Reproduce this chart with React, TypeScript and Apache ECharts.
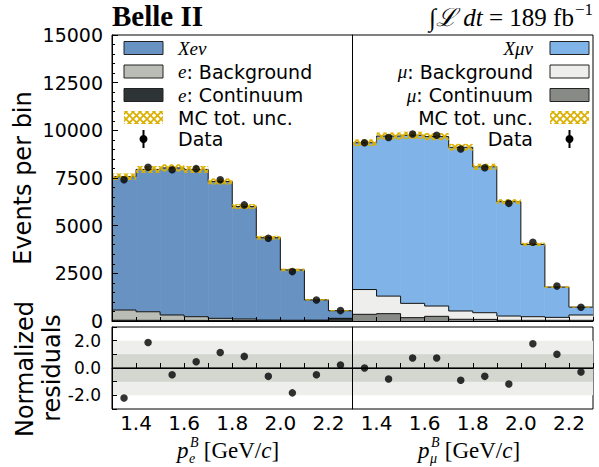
import React, { useEffect, useRef } from 'react';
import * as echarts from 'echarts';

// ---------- data ----------
const binLow = [1.3, 1.4, 1.5, 1.6, 1.7, 1.8, 1.9, 2.0, 2.1, 2.2];
const binWidth = 0.1;
const xRange = [1.3, 2.3];
const yMainRange = [0, 15000];
const yMainInterval = 2500;
const yResRange = [-3, 3];
const bandOuter = [-2, 2];
const bandInner = [-1, 1];

const eSignal = [6995, 7465, 7715, 7725, 7180, 5895, 4320, 2640, 1065, 400];
const eBackground = [535, 450, 285, 195, 115, 80, 30, 20, 15, 20];
const eContinuum = [40, 35, 30, 30, 25, 25, 20, 20, 30, 120];
const eUnc = [170, 180, 190, 180, 160, 130, 100, 70, 40, 30];
const eData = [7410, 8060, 7930, 7990, 7410, 6090, 4340, 2590, 1100, 545];
const eResidual = [-2.2, 1.87, -0.49, 0.46, 1.14, 0.85, -0.61, -1.82, -0.49, 0.22];

const muSignal = [7700, 8395, 8815, 8885, 8585, 7655, 6000, 3795, 1590, 415];
const muBackground = [1300, 920, 750, 540, 435, 350, 225, 190, 155, 280];
const muContinuum = [350, 385, 175, 245, 90, 85, 35, 35, 35, 35];
const muUnc = [180, 190, 190, 190, 180, 160, 130, 90, 50, 30];
const muData = [9350, 9620, 9810, 9740, 9020, 8040, 6170, 4130, 1830, 722];
const muResidual = [0.0, -0.8, 0.73, 0.73, -0.9, -0.61, -1.17, 1.78, 1.0, -0.29];

const eLegend = ['{m|Xeν}', '{m|e}: Background', '{m|e}: Continuum', 'MC tot. unc.', 'Data'];
const muLegend = ['{m|Xμν}', '{m|μ}: Background', '{m|μ}: Continuum', 'MC tot. unc.', 'Data'];

// ---------- style ----------
const C = {
  eSig: '#6892c2',
  eBkg: '#babdb6',
  eCont: '#2e3436',
  muSig: '#80b4e8',
  muBkg: '#eeeeec',
  muCont: '#888a85',
  hatch: '#dcb000',
  bandOuter: '#eeeeec',
  bandInner: '#d3d7cf',
  zero: '#555753',
};
const SANS = 'DejaVu Sans';
const SERIF = '"Liberation Serif", "DejaVu Serif", serif';

const GL = { left: 112, width: 240.5 };
const GR = { left: 352.5, width: 240.5 };
const MAIN = { top: 35, height: 286 };
const RES = { top: 327, height: 82 };

let measureCtx: CanvasRenderingContext2D | null = null;
function measure(s: string, font: string) {
  if (!measureCtx) measureCtx = document.createElement('canvas').getContext('2d');
  measureCtx!.font = font;
  return measureCtx!.measureText(s).width;
}

function makeHatch(): any {
  const s = 7;
  const cv = document.createElement('canvas');
  cv.width = s;
  cv.height = s;
  const ctx = cv.getContext('2d')!;
  ctx.strokeStyle = C.hatch;
  ctx.lineWidth = 1.7;
  for (const c of [-s, 0, s]) {
    ctx.beginPath();
    ctx.moveTo(c - 1, -1);
    ctx.lineTo(c + s + 1, s + 1);
    ctx.stroke();
  }
  for (const c of [0, s, 2 * s]) {
    ctx.beginPath();
    ctx.moveTo(c + 1, -1);
    ctx.lineTo(c - s - 1, s + 1);
    ctx.stroke();
  }
  return { image: cv, repeat: 'repeat', imageWidth: s, imageHeight: s };
}

// one stacked histogram component: items [x0, x1, bottom, top, nextTop, nextBottom]
function histSeries(mx: number, my: number, bottoms: number[], tops: number[], color: string, z: number) {
  const last = tops.length - 1;
  return {
    type: 'custom',
    xAxisIndex: mx,
    yAxisIndex: my,
    silent: true,
    z,
    clip: true,
    data: binLow.map((x, i) => [x, x + binWidth, bottoms[i], tops[i], i < last ? tops[i + 1] : tops[i], i < last ? bottoms[i + 1] : bottoms[i]]),
    encode: { x: [0, 1], y: [2, 3] },
    renderItem: (params: any, api: any) => {
      const a = api.coord([api.value(0), api.value(3)]);
      const b = api.coord([api.value(1), api.value(2)]);
      const n = api.coord([api.value(1), api.value(4)]);
      const nb = api.coord([api.value(1), api.value(5)]);
      const isLast = params.dataIndex === last;
      const overlapBottom = Math.min(b[1], nb[1]);
      const overlapTop = Math.max(a[1], n[1]);
      const children: any[] = [
        { type: 'rect', shape: { x: a[0], y: a[1], width: b[0] - a[0], height: b[1] - a[1] }, style: { fill: color } },
      ];
      if (!isLast && overlapBottom > overlapTop) {
        children.push({ type: 'rect', shape: { x: b[0] - 0.5, y: overlapTop, width: 1, height: overlapBottom - overlapTop }, style: { fill: color } });
      }
      children.push({
        type: 'polyline',
        z2: 10,
        shape: { points: [[a[0], a[1]], [b[0], a[1]], [b[0], n[1]]] },
        style: { stroke: '#111', lineWidth: 1, fill: null },
      });
      return { type: 'group', children };
    },
  };
}

function panelSeries(
  k: number,
  sig: number[],
  bkg: number[],
  cont: number[],
  unc: number[],
  data: number[],
  resid: number[],
  colors: { sig: string; bkg: string; cont: string },
  hatch: any
) {
  const mx = k, my = k, rx = k + 2, ry = k + 2;
  const zeros = cont.map(() => 0);
  const t1 = cont.map((c) => c);
  const t2 = cont.map((c, i) => c + bkg[i]);
  const t3 = t2.map((v, i) => v + sig[i]);
  const band = (range: number[], color: string, z: number) => ({
    type: 'custom',
    xAxisIndex: rx,
    yAxisIndex: ry,
    silent: true,
    z,
    data: [[xRange[0], xRange[1], range[0], range[1]]],
    encode: { x: [0, 1], y: [2, 3] },
    renderItem: (_p: any, api: any) => {
      const a = api.coord([api.value(0), api.value(3)]);
      const b = api.coord([api.value(1), api.value(2)]);
      return { type: 'rect', shape: { x: a[0], y: a[1], width: b[0] - a[0], height: b[1] - a[1] }, style: { fill: color } };
    },
  });
  return [
    histSeries(mx, my, zeros, t1, colors.cont, 2.2),
    histSeries(mx, my, t1, t2, colors.bkg, 2.1),
    histSeries(mx, my, t2, t3, colors.sig, 2),
    {
      type: 'custom',
      xAxisIndex: mx,
      yAxisIndex: my,
      silent: true,
      z: 4,
      data: binLow.map((x, i) => [x, x + binWidth, t3[i] - unc[i], t3[i] + unc[i]]),
      encode: { x: [0, 1], y: [2, 3] },
      renderItem: (_p: any, api: any) => {
        const a = api.coord([api.value(0), api.value(3)]);
        const b = api.coord([api.value(1), api.value(2)]);
        return { type: 'rect', shape: { x: a[0], y: a[1], width: b[0] - a[0], height: b[1] - a[1] }, style: { fill: hatch } };
      },
    },
    {
      type: 'scatter',
      xAxisIndex: mx,
      yAxisIndex: my,
      silent: true,
      z: 5,
      symbolSize: 7.5,
      itemStyle: { color: '#000' },
      data: binLow.map((x, i) => [x + binWidth / 2, data[i]]),
    },
    band(bandOuter, C.bandOuter, 1),
    band(bandInner, C.bandInner, 1.5),
    {
      type: 'custom',
      xAxisIndex: rx,
      yAxisIndex: ry,
      silent: true,
      z: 2,
      data: [[xRange[0], xRange[1], 0]],
      encode: { x: [0, 1], y: 2 },
      renderItem: (_p: any, api: any) => {
        const a = api.coord([api.value(0), api.value(2)]);
        const b = api.coord([api.value(1), api.value(2)]);
        return { type: 'line', shape: { x1: a[0], y1: a[1], x2: b[0], y2: b[1] }, style: { stroke: C.zero, lineWidth: 2 } };
      },
    },
    {
      type: 'scatter',
      xAxisIndex: rx,
      yAxisIndex: ry,
      silent: true,
      z: 5,
      symbolSize: 7.5,
      itemStyle: { color: '#000' },
      data: binLow.map((x, i) => [x + binWidth / 2, resid[i]]),
    },
  ];
}

function xAxisDef(grid: number, labels: boolean, tickLen: number) {
  return {
    type: 'value',
    gridIndex: grid,
    min: xRange[0],
    max: xRange[1],
    interval: binWidth,
    z: 10,
    axisLine: { show: true, lineStyle: { color: '#000', width: 1 } },
    axisTick: { show: true, inside: true, length: tickLen, lineStyle: { color: '#000', width: 1 } },
    splitLine: { show: false },
    axisLabel: labels
      ? {
          show: true,
          margin: 4,
          fontFamily: SANS,
          fontSize: 20,
          color: '#000',
          formatter: (v: number) => {
            const k = Math.round(v * 10);
            return k % 2 === 0 && k > 13 && k < 23 ? (k / 10).toFixed(1) : '';
          },
        }
      : { show: false },
  };
}

function legendGraphics(hatch: any) {
  const els: any[] = [];
  const rows = [48, 71.5, 95, 117.5, 139];
  const bw = 39, bh = 13;
  const sides = [
    { bx: 124, tx: 178, align: 'left', fills: [C.eSig, C.eBkg, C.eCont], texts: eLegend },
    { bx: 550, tx: 533, align: 'right', fills: [C.muSig, C.muBkg, C.muCont], texts: muLegend },
  ];
  for (const s of sides) {
    s.fills.forEach((f, i) =>
      els.push({ type: 'rect', z: 100, shape: { x: s.bx, y: rows[i] - bh / 2, width: bw, height: bh }, style: { fill: f, stroke: '#222', lineWidth: 1 } })
    );
    els.push({ type: 'rect', z: 100, shape: { x: s.bx, y: rows[3] - bh / 2, width: bw, height: bh }, style: { fill: hatch } });
    const cx = s.bx + bw / 2;
    els.push({ type: 'line', z: 100, shape: { x1: cx, y1: rows[4] - 9, x2: cx, y2: rows[4] + 9 }, style: { stroke: '#000', lineWidth: 2 } });
    els.push({ type: 'circle', z: 101, shape: { cx, cy: rows[4], r: 4 }, style: { fill: '#000' } });
    s.texts.forEach((t, i) =>
      els.push({
        type: 'text',
        z: 100,
        x: s.tx,
        y: rows[i],
        style: {
          text: t,
          fontFamily: SANS,
          fontSize: 19,
          fill: '#000',
          align: s.align,
          verticalAlign: 'middle',
          rich: { m: { fontFamily: SERIF, fontStyle: 'italic', fontSize: 19, fill: '#000' } },
        },
      })
    );
  }
  return els;
}

function momentumLabel(cx: number, cy: number, lepton: string) {
  const big = 23, small = 14;
  const fI = (s: number) => `italic ${s}px ${SERIF}`;
  const fR = (s: number) => `${s}px ${SERIF}`;
  const wp = measure('p', fI(big));
  const wsc = Math.max(measure('B', fI(small)), measure(lepton, fI(small)));
  const wmid = measure(' [GeV/', fR(big));
  const wc = measure('c', fI(big));
  const wend = measure(']', fR(big));
  const total = wp + 1 + wsc + wmid + wc + wend;
  const x = cx - total / 2;
  const t = (text: string, px: number, py: number, size: number, italic: boolean) => ({
    type: 'text',
    z: 100,
    x: px,
    y: py,
    style: { text, fontFamily: SERIF, fontSize: size, fontStyle: italic ? 'italic' : 'normal', fill: '#000', align: 'left', verticalAlign: 'middle' },
  });
  return [
    t('p', x, cy, big, true),
    t('B', x + wp + 1.5, cy - 8, small, true),
    t(lepton, x + wp + 0.5, cy + 8, small, true),
    t(' [GeV/', x + wp + 1 + wsc, cy, big, false),
    t('c', x + wp + 1 + wsc + wmid, cy, big, true),
    t(']', x + wp + 1 + wsc + wmid + wc, cy, big, false),
  ];
}

function titleGraphics() {
  const supSize = 17;
  const supW = measure('−1', `${supSize}px ${SERIF}`);
  const right = 593;
  return [
    { type: 'text', z: 100, x: 112, y: 16, style: { text: 'Belle II', fontFamily: SERIF, fontWeight: 'bold', fontSize: 29, fill: '#000', align: 'left', verticalAlign: 'middle' } },
    {
      type: 'text',
      z: 100,
      x: right - supW - 1,
      y: 17,
      style: {
        text: '∫{i|ℒ} {i|dt} = 189 fb',
        fontFamily: SERIF,
        fontSize: 25,
        fill: '#000',
        align: 'right',
        verticalAlign: 'middle',
        rich: { i: { fontFamily: SERIF, fontStyle: 'italic', fontSize: 25, fill: '#000' } },
      },
    },
    { type: 'text', z: 100, x: right, y: 9, style: { text: '−1', fontFamily: SERIF, fontSize: supSize, fill: '#000', align: 'right', verticalAlign: 'middle' } },
    { type: 'text', z: 100, x: 23, y: 178, rotation: Math.PI / 2, style: { text: 'Events per bin', fontFamily: SANS, fontSize: 24, fill: '#000', align: 'center', verticalAlign: 'middle' } },
    { type: 'text', z: 100, x: 25, y: 369, rotation: Math.PI / 2, style: { text: 'Normalized', fontFamily: SANS, fontSize: 24, fill: '#000', align: 'center', verticalAlign: 'middle' } },
    { type: 'text', z: 100, x: 52, y: 368, rotation: Math.PI / 2, style: { text: 'residuals', fontFamily: SANS, fontSize: 24, fill: '#000', align: 'center', verticalAlign: 'middle' } },
  ];
}

function buildOption() {
  const hatch = makeHatch();
  const grid = (g: { left: number; width: number }, v: { top: number; height: number }) => ({
    left: g.left,
    width: g.width,
    top: v.top,
    height: v.height,
    show: true,
    borderColor: '#000',
    borderWidth: 1,
    backgroundColor: 'transparent',
    containLabel: false,
  });
  return {
    animation: false,
    backgroundColor: '#fff',
    grid: [grid(GL, MAIN), grid(GR, MAIN), grid(GL, RES), grid(GR, RES)],
    xAxis: [xAxisDef(0, false, 4), xAxisDef(1, false, 4), xAxisDef(2, true, 5), xAxisDef(3, true, 5)],
    yAxis: [
      {
        type: 'value',
        gridIndex: 0,
        min: yMainRange[0],
        max: yMainRange[1],
        interval: yMainInterval,
        z: 10,
        axisLine: { show: true, lineStyle: { color: '#000', width: 1 } },
        axisTick: { show: true, inside: true, length: 6, lineStyle: { color: '#000' } },
        minorTick: { show: true, splitNumber: 5, length: 3, lineStyle: { color: '#000' } },
        splitLine: { show: false },
        axisLabel: { show: true, margin: 9, fontFamily: SANS, fontSize: 19, color: '#000', formatter: (v: number) => String(Math.round(v)) },
      },
      {
        type: 'value',
        gridIndex: 1,
        min: yMainRange[0],
        max: yMainRange[1],
        interval: yMainInterval,
        z: 10,
        axisLine: { show: true, lineStyle: { color: '#000', width: 1 } },
        axisTick: { show: false },
        splitLine: { show: false },
        axisLabel: { show: false },
      },
      {
        type: 'value',
        gridIndex: 2,
        min: yResRange[0],
        max: yResRange[1],
        interval: 1,
        z: 10,
        axisLine: { show: true, lineStyle: { color: '#000', width: 1 } },
        axisTick: { show: true, inside: true, length: 5, lineStyle: { color: '#000' } },
        splitLine: { show: false },
        axisLabel: {
          show: true,
          margin: 11,
          fontFamily: SANS,
          fontSize: 17,
          color: '#000',
          formatter: (v: number) => {
            const k = Math.round(v);
            return k % 2 === 0 && Math.abs(k) < 3 ? k.toFixed(1) : '';
          },
        },
      },
      {
        type: 'value',
        gridIndex: 3,
        min: yResRange[0],
        max: yResRange[1],
        interval: 1,
        z: 10,
        axisLine: { show: true, lineStyle: { color: '#000', width: 1 } },
        axisTick: { show: false },
        splitLine: { show: false },
        axisLabel: { show: false },
      },
    ],
    series: [
      ...panelSeries(0, eSignal, eBackground, eContinuum, eUnc, eData, eResidual, { sig: C.eSig, bkg: C.eBkg, cont: C.eCont }, hatch),
      ...panelSeries(1, muSignal, muBackground, muContinuum, muUnc, muData, muResidual, { sig: C.muSig, bkg: C.muBkg, cont: C.muCont }, hatch),
    ],
    graphic: {
      elements: [
        ...legendGraphics(hatch),
        ...momentumLabel(228, 450, 'e'),
        ...momentumLabel(469, 450, 'μ'),
        ...titleGraphics(),
      ],
    },
  };
}

export default function App() {
  const ref = useRef<HTMLDivElement>(null);
  useEffect(() => {
    const chart = echarts.init(ref.current!, null, { renderer: 'svg' });
    chart.setOption(buildOption() as any);
    return () => chart.dispose();
  }, []);
  return <div ref={ref} style={{ position: 'fixed', left: 0, top: 0, width: 599, height: 467, background: '#fff' }} />;
}
